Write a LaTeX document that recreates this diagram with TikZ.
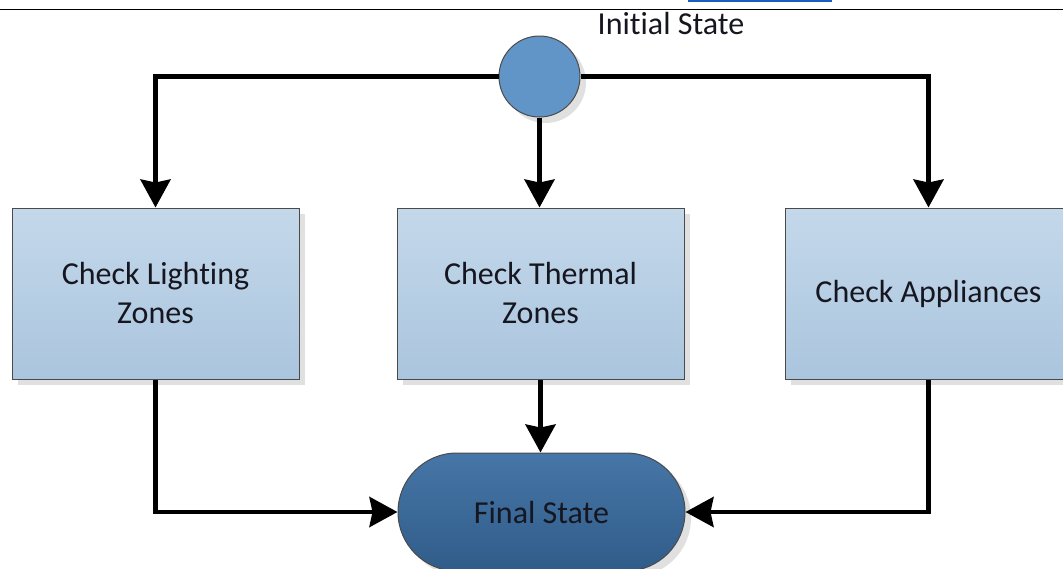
\documentclass[tikz,border=0pt]{standalone}
\usepackage{fontspec}
\setmainfont{Carlito}[Ligatures={NoCommon}, RawFeature={-liga;-clig}]
\usetikzlibrary{arrows.meta,shapes.misc,shadows}
\definecolor{txt}{HTML}{161620}
\definecolor{edge}{HTML}{4A4A4A}
\definecolor{boxtop}{HTML}{C4D8EA}
\definecolor{boxbot}{HTML}{AAC5DE}
\definecolor{initfill}{HTML}{6295C7}
\definecolor{fintop}{HTML}{4676A7}
\definecolor{finbot}{HTML}{305C89}
\definecolor{rulecol}{HTML}{1A5FC0}
\tikzset{
  lbl/.style={font=\fontsize{32}{39}\selectfont, text=txt},
  shade/.style={drop shadow={shadow xshift=6pt, shadow yshift=-6pt, fill=black!12, opacity=1}},
  stepbox/.style={lbl, shade, draw=edge, line width=1pt, rectangle,
    minimum width=287pt, minimum height=171pt, align=center, inner sep=0pt,
    top color=boxtop, bottom color=boxbot},
  startdot/.style={shade, circle, draw=edge, line width=1pt, fill=initfill,
    minimum size=81pt, inner sep=0pt},
  enddot/.style={lbl, shade, rounded rectangle, draw=edge, line width=1pt,
    minimum width=287pt, minimum height=118pt, inner sep=0pt,
    top color=fintop, bottom color=finbot},
  flow/.style={line width=4.5pt, draw=black, line cap=butt,
    -{Stealth[length=28pt, width=30pt, inset=3pt]}},
}
\begin{document}
\begin{tikzpicture}[x=1pt, y=-1pt]
  \useasboundingbox (0,0) rectangle (1063,568);
  \clip (0,0) rectangle (1063,568);
  \fill[white] (0,0) rectangle (1063,568);

  % header rule and the blue mark above it
  \draw[line width=1.2pt, black] (0,9.5) -- (1063,9.5);
  \draw[line width=2.2pt, rulecol] (688,0.8) -- (832,0.8);

  % states and steps
  \node[startdot] (init) at (539.5,76.5) {};
  \node[lbl] (initlbl) at (671,24) {Initial State};
  \node[stepbox] (light) at (155.5,293.5) {Check Lighting\\Zones};
  \node[stepbox] (thermal) at (540.5,293.5) {Check Thermal\\Zones};
  \node[stepbox] (appl) at (928.5,293.5) {Check Appliances};
  \node[enddot] (final) at (541.5,512) {Final State};

  % connectors
  \draw[flow] (init) -| (light);
  \draw[flow] (init) -| (appl);
  \draw[flow] (init.south) -- (init.south |- thermal.north);
  \draw[flow] (light) |- (final);
  \draw[flow] (appl) |- (final);
  \draw[flow] (thermal.south) -- (thermal.south |- final.north);
\end{tikzpicture}
\end{document}
